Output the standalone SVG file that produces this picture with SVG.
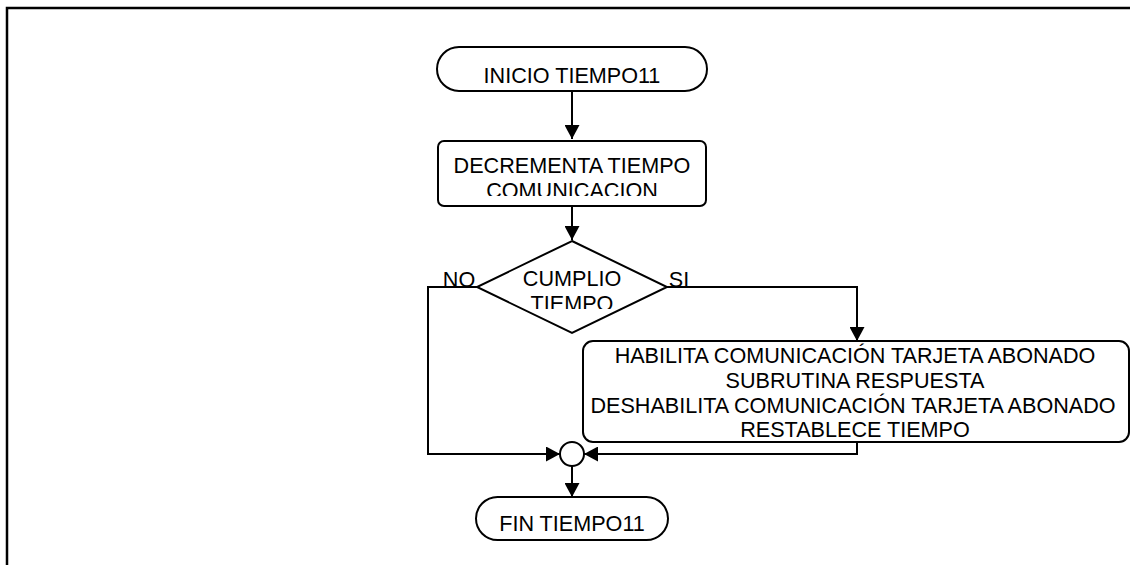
<svg xmlns="http://www.w3.org/2000/svg" width="1130" height="565" viewBox="0 0 1130 565">
<style>
.s{fill:#fff;stroke:#000;stroke-width:2}
.t{font-family:"Liberation Sans",Arial,sans-serif;font-size:21.6px;fill:#000;text-anchor:middle}
.c{fill:none;stroke:#000;stroke-width:2}
</style>
<defs>
<marker id="a" markerWidth="15" markerHeight="15" refX="14" refY="7.5" orient="auto" markerUnits="userSpaceOnUse">
<path d="M0,0 L14,7.5 L0,15 Z" fill="#000"/>
</marker>
<clipPath id="k1"><rect x="438" y="141" width="268" height="55"/></clipPath>
<clipPath id="k2"><rect x="477" y="241" width="190" height="68"/></clipPath>
</defs>
<rect x="7" y="8" width="1200" height="600" fill="#fff" stroke="#000" stroke-width="2.5"/>
<g id="connectors">
<path class="c" d="M572,91 V139" marker-end="url(#a)"/>
<path class="c" d="M572,206 V240" marker-end="url(#a)"/>
<path class="c" d="M667,287 H857 V341" marker-end="url(#a)"/>
<path class="c" d="M477,287 H428 V454 H560" marker-end="url(#a)"/>
<path class="c" d="M857,442 V454 H584" marker-end="url(#a)"/>
<path class="c" d="M572,466 V497" marker-end="url(#a)"/>
</g>
<g id="inicio">
<rect class="s" x="437" y="47" width="270" height="44" rx="22"/>
<text class="t" x="572" y="83">INICIO TIEMPO11</text>
</g>
<g id="decrementa">
<rect class="s" x="438" y="141" width="268" height="65" rx="6"/>
<g clip-path="url(#k1)">
<text class="t" x="572" y="173">DECREMENTA TIEMPO</text>
<text class="t" x="572" y="198">COMUNICACION</text>
</g>
</g>
<g id="cumplio">
<polygon class="s" points="572,241 667,287 572,333 477,287"/>
<g clip-path="url(#k2)">
<text class="t" x="572" y="286">CUMPLIO</text>
<text class="t" x="572" y="311">TIEMPO</text>
</g>
<text class="t" x="459" y="287">NO</text>
<text class="t" x="679" y="287">SI</text>
</g>
<g id="habilita">
<rect class="s" x="583" y="341" width="546" height="101" rx="10"/>
<text class="t" x="855" y="363">HABILITA COMUNICACIÓN TARJETA ABONADO</text>
<text class="t" x="855" y="388">SUBRUTINA RESPUESTA</text>
<text class="t" x="853" y="413">DESHABILITA COMUNICACIÓN TARJETA ABONADO</text>
<text class="t" x="855" y="437">RESTABLECE TIEMPO</text>
</g>
<g id="union">
<circle class="s" cx="572" cy="454" r="12"/>
</g>
<g id="fin">
<rect class="s" x="476" y="497" width="192" height="43" rx="21.5"/>
<text class="t" x="572" y="531">FIN TIEMPO11</text>
</g>
</svg>
